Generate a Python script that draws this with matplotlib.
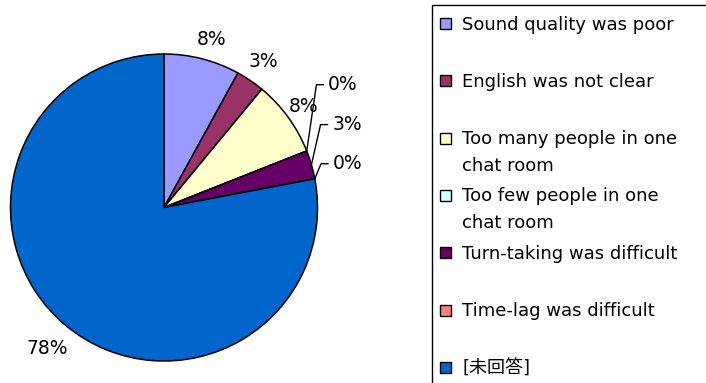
import numpy as np
import matplotlib
matplotlib.use("Agg")
import matplotlib.pyplot as plt
from matplotlib.patches import Rectangle

plt.rcParams['font.family'] = ['DejaVu Sans', 'Noto Sans CJK JP']

# answers to "what problems did you have in the chat room?" (percent)
labels = ['Sound quality was poor', 'English was not clear',
          'Too many people in one\nchat room', 'Too few people in one\nchat room',
          'Turn-taking was difficult', 'Time-lag was difficult', '[未回答]']
values = [8, 3, 8, 0, 3, 0, 78]
colors = ['#9999FF', '#993366', '#FFFFCC', '#CCFFFF', '#660066', '#FF8080', '#0066CC']

W, H = 706, 383
fig = plt.figure(figsize=(W / 100, H / 100), dpi=100)

# pie centre and radius in pixels; axes limits give 1 data unit = R pixels
cx, cy, R = 164, 207.5, 153.5
ax_w = 400
ax = fig.add_axes([0, 0, ax_w / W, 1])
wedges, _ = ax.pie(values, colors=colors, startangle=90, counterclock=False,
                   radius=1, wedgeprops=dict(edgecolor='black', linewidth=1.1))
ax.set_xlim(-cx / R, (ax_w - cx) / R)
ax.set_ylim(-(H - cy) / R, cy / R)
ax.set_aspect('auto')

# labels outside the wedges; the small ones on the right get leader lines
leader = {3: (1.068, 0.80), 4: (1.095, 0.54), 5: (1.098, 0.285)}
lab_r = {0: 1.13, 1: 1.15, 2: 1.12, 6: 1.19}
for i, w in enumerate(wedges):
    mid = np.deg2rad((w.theta1 + w.theta2) / 2)
    ex, ey = np.cos(mid), np.sin(mid)
    txt = f"{values[i]}%"
    if i in leader:
        tx, ty = leader[i]
        ax.plot([ex, tx - 0.075, tx - 0.03], [ey, ty, ty], color='black', lw=1.0,
                clip_on=False)
        ax.text(tx, ty, txt, ha='left', va='center', fontsize=13.5)
    else:
        r = lab_r[i]
        ax.text(r * ex + (0.03 if i == 0 else 0), r * ey, txt, ha='center',
                va='center', fontsize=13.5)

# legend box running off the right and bottom edges
def fx(x):
    return x / W

def fy(y):
    return 1 - y / H

fig.add_artist(Rectangle((fx(431.5), fy(395)), fx(706) - fx(431.5) + 0.01,
                         fy(4.5) - fy(395), transform=fig.transFigure,
                         facecolor='none', edgecolor='black', lw=1.0, clip_on=False))

step = 57.33
line_h = 27
for i, lab in enumerate(labels):
    yc = 23.5 + i * step
    fig.add_artist(Rectangle((fx(440), fy(yc + 5.5)), fx(11), 11 / H,
                             transform=fig.transFigure, facecolor=colors[i],
                             edgecolor='black', lw=1.0))
    for k, line in enumerate(lab.split('\n')):
        fig.text(fx(462), fy(yc + 6 + k * line_h), line,
                 ha='left', va='baseline', fontsize=13)

fig.savefig('out.png', dpi=100)
